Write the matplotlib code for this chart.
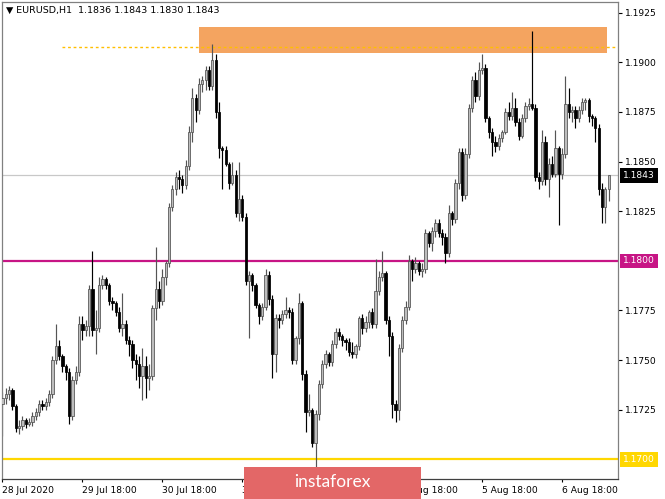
import matplotlib
matplotlib.use("Agg")
import matplotlib.pyplot as plt
from matplotlib.patches import Rectangle

# EURUSD H1 candles, values in pips above 1.1700
BASE = 1.1700
opens = [28, 31, 33, 35, 27, 16, 17, 20, 18, 19, 22, 24, 28, 27, 29, 33, 50, 57, 52, 47,
         44, 22, 40, 44, 68, 65, 67, 86, 65, 66, 88, 91, 88, 80, 79, 74, 66, 68, 60, 58,
         50, 48, 42, 47, 41, 42, 76, 86, 80, 92, 99, 127, 136, 142, 141, 138, 148, 165, 182, 176,
         189, 191, 196, 188, 201, 175, 157, 156, 149, 139, 143, 124, 131, 122, 90, 93, 88, 78, 72, 77,
         93, 81, 53, 71, 70, 73, 75, 74, 50, 61, 79, 43, 24, 25, 8, 23, 38, 48, 53, 49,
         58, 64, 62, 60, 59, 54, 53, 57, 71, 66, 69, 74, 68, 85, 92, 94, 70, 62, 28, 25,
         56, 70, 77, 100, 96, 99, 95, 96, 114, 109, 115, 119, 114, 112, 104, 124, 121, 139, 155, 133,
         154, 177, 191, 183, 196, 197, 172, 165, 160, 158, 162, 165, 175, 173, 177, 170, 163, 172, 178, 179,
         177, 142, 140, 160, 141, 149, 144, 157, 144, 154, 179, 175, 176, 172, 176, 180, 181, 173, 172, 167,
         136, 127, 136]
highs = [34, 36, 37, 36, 28, 20, 22, 21, 21, 24, 26, 30, 30, 31, 35, 52, 68, 60, 53, 48,
         46, 42, 47, 72, 72, 70, 88, 105, 75, 92, 93, 92, 89, 82, 80, 77, 84, 70, 62, 60,
         53, 52, 56, 52, 48, 78, 107, 90, 96, 100, 129, 138, 145, 146, 143, 151, 168, 187, 184, 192,
         193, 198, 198, 209, 204, 180, 158, 158, 150, 150, 146, 150, 133, 124, 95, 94, 89, 79, 79, 96,
         95, 83, 73, 73, 75, 82, 77, 76, 62, 84, 80, 45, 33, 26, 25, 40, 50, 55, 54, 60,
         66, 66, 63, 61, 61, 59, 58, 72, 73, 72, 75, 76, 101, 95, 105, 95, 72, 64, 30, 58,
         72, 80, 103, 101, 102, 100, 99, 116, 115, 117, 121, 121, 116, 114, 128, 125, 141, 157, 157, 157,
         179, 193, 195, 200, 204, 199, 173, 167, 163, 164, 166, 177, 180, 185, 182, 172, 174, 180, 182, 216,
         179, 145, 166, 163, 152, 153, 166, 158, 157, 193, 187, 178, 178, 178, 182, 182, 182, 174, 173, 169,
         139, 137, 143]
lows = [12, 28, 30, 25, 14, 13, 15, 16, 17, 17, 20, 22, 25, 25, 27, 31, 48, 50, 44, 40,
        18, 20, 38, 42, 60, 62, 62, 62, 53, 64, 86, 86, 78, 75, 72, 64, 62, 58, 52, 46,
        40, 36, 30, 31, 35, 40, 70, 76, 78, 88, 97, 125, 133, 136, 134, 136, 146, 160, 170, 174,
        185, 186, 186, 186, 172, 152, 136, 148, 136, 138, 122, 120, 120, 88, 61, 85, 76, 68, 70, 75,
        78, 41, 44, 66, 68, 71, 71, 48, 48, 58, 40, 14, 22, 6, -4, 20, 36, 46, 47, 47,
        56, 60, 57, 55, 52, 51, 51, 55, 63, 64, 66, 66, 66, 83, 90, 68, 52, 21, 19, 20,
        54, 68, 75, 90, 94, 93, 92, 94, 107, 105, 112, 112, 108, 99, 102, 118, 119, 136, 130, 131,
        152, 175, 180, 181, 194, 170, 162, 153, 155, 156, 160, 164, 171, 171, 168, 161, 162, 170, 176, 176,
        140, 136, 138, 138, 132, 142, 142, 118, 141, 152, 172, 170, 167, 170, 174, 176, 170, 168, 160, 133,
        119, 119, 130]
closes = [31, 33, 35, 27, 16, 17, 20, 18, 19, 22, 24, 28, 27, 29, 33, 50, 57, 52, 47, 44,
          22, 40, 44, 68, 65, 67, 86, 65, 66, 88, 91, 88, 80, 79, 74, 66, 68, 60, 58, 50,
          48, 42, 47, 41, 42, 76, 86, 80, 92, 99, 127, 136, 142, 141, 138, 148, 165, 182, 176, 189,
          191, 196, 188, 201, 175, 157, 156, 149, 139, 143, 124, 131, 122, 90, 93, 88, 78, 72, 77, 93,
          81, 53, 71, 70, 73, 75, 74, 50, 61, 79, 43, 24, 25, 8, 23, 38, 48, 53, 49, 58,
          64, 62, 60, 59, 54, 53, 57, 71, 66, 69, 74, 68, 85, 92, 94, 70, 62, 28, 25, 56,
          70, 77, 100, 96, 99, 95, 96, 114, 109, 115, 119, 114, 112, 104, 124, 121, 139, 155, 133, 154,
          177, 191, 183, 196, 197, 172, 165, 160, 158, 162, 165, 175, 173, 177, 170, 163, 172, 178, 179, 177,
          142, 140, 160, 141, 149, 144, 157, 144, 154, 179, 175, 176, 172, 176, 180, 181, 173, 172, 167, 136,
          127, 136, 143]

time_ticks = [0, 24, 48, 72, 96, 120, 144, 168]
time_labels = ["28 Jul 2020", "29 Jul 18:00", "30 Jul 18:00", "31 Jul 18:00",
               "3 Aug 18:00", "4 Aug 18:00", "5 Aug 18:00", "6 Aug 18:00"]
price_ticks = [1.1725, 1.1750, 1.1775, 1.1825, 1.1850, 1.1875, 1.1900, 1.1925]

last_price = 1.1843
level_mid = 1.1800
level_low = 1.1700
zone_top = 1.19178
zone_bottom = 1.19047
zone_start = 59
zone_end = 181.6
dotted_level = 1.19076
dotted_start = 18


def to_price(v):
    return BASE + v / 10000.0


fig = plt.figure(figsize=(6.65, 4.99), dpi=100)
ax = fig.add_axes([2 / 665, 20 / 499, 616 / 665, 477 / 499])
ax.set_xlim(-0.15, 184.8)
ax.set_ylim(1.16901, 1.19304)

# background objects
ax.add_patch(Rectangle((zone_start, zone_bottom), zone_end - zone_start, zone_top - zone_bottom,
                       facecolor="#f4a460", edgecolor="none", zorder=0.5))
ax.hlines(dotted_level, dotted_start, 184.6, colors="#ffbf00", linestyles=(0, (2, 2)), lw=1.0, zorder=0.6)
ax.axhline(last_price, color="#c8c8c8", lw=0.9, zorder=0.7)
ax.axhline(level_mid, color="#c71585", lw=1.6, zorder=0.8)
ax.axhline(level_low, color="#ffd700", lw=1.6, zorder=0.8)

# candles
for i in range(len(closes)):
    o = to_price(opens[i])
    h = to_price(highs[i])
    l = to_price(lows[i])
    c = to_price(closes[i])
    if c >= o:
        wick, face, edge = "#555555", "#bdbdbd", "#505050"
    else:
        wick, face, edge = "black", "black", "black"
    ax.vlines(i, l, h, colors=wick, lw=0.85, zorder=2)
    ax.bar(i, max(abs(c - o), 0.00002), bottom=min(o, c), width=0.68,
           color=face, edgecolor=edge, linewidth=0.55, zorder=3)

# axes styling
for side in ["left", "top", "right"]:
    ax.spines[side].set_color("#808080")
    ax.spines[side].set_linewidth(0.9)
ax.spines["bottom"].set_color("#404040")
ax.spines["bottom"].set_linewidth(0.9)

ax.yaxis.tick_right()
ax.set_yticks(price_ticks)
ax.set_yticklabels(["%.4f" % p for p in price_ticks])
ax.tick_params(axis="y", direction="out", length=3, width=0.8, pad=2, labelsize=6.6, colors="black")
ax.set_xticks(time_ticks)
ax.set_xticklabels(time_labels, ha="left")
ax.tick_params(axis="x", direction="out", length=2.5, width=0.8, pad=2.5, labelsize=6.6, colors="black")

# price boxes on the scale
boxes = [(last_price, "black"), (level_mid, "#c71585"), (level_low, "#ffd700")]
for price, col in boxes:
    ax.text(1.0085, price, "%.4f" % price, transform=ax.get_yaxis_transform(), ha="left", va="center",
            fontsize=6.6, color="white", clip_on=False, zorder=10,
            bbox=dict(boxstyle="square,pad=0.3", fc=col, ec="none"))

fig.text(6 / 665, 1 - 10 / 499, "\u25bc EURUSD,H1  1.1836 1.1843 1.1830 1.1843",
         fontsize=6.8, va="center", ha="left", color="black")

# watermark logo
fig.add_artist(Rectangle((244 / 665, 0), 177 / 665, 32 / 499, transform=fig.transFigure,
                         facecolor="#e36767", edgecolor="none", zorder=5))
fig.text(332 / 665, 1 - 482 / 499, "instaforex", fontsize=12.5, color="white",
         ha="center", va="center", zorder=6, family=["Lato", "DejaVu Sans"])

fig.savefig("out.png", dpi=100, facecolor="white")
